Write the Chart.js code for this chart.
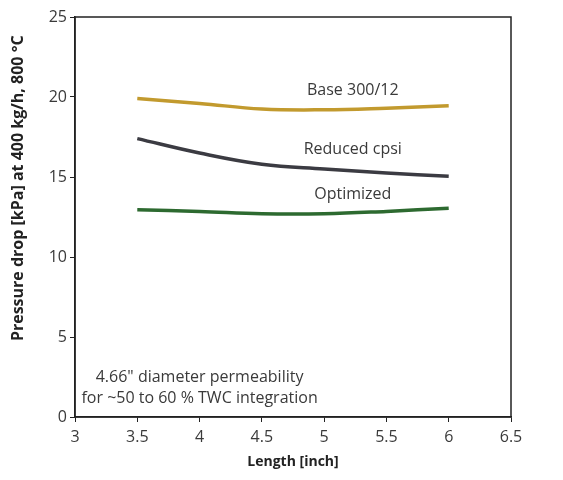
<!DOCTYPE html>
<html>
<head>
<meta charset="utf-8">
<script src="https://cdn.jsdelivr.net/npm/chart.js@4"></script>
<style>
  html, body { margin: 0; padding: 0; background: #ffffff; }
  #wrap { width: 563px; height: 480px; }
</style>
</head>
<body>
<div id="wrap"><canvas id="dropChart"></canvas></div>
<script>
const lengths = [3.5, 4, 4.5, 5, 5.5, 6];
const baseDrop = [19.9, 19.6, 19.25, 19.2, 19.3, 19.45];
const reducedDrop = [17.4, 16.5, 15.8, 15.5, 15.25, 15.05];
const optimizedDrop = [12.95, 12.85, 12.7, 12.7, 12.85, 13.05];
const xTicks = [3, 3.5, 4, 4.5, 5, 5.5, 6, 6.5];
const yTicks = [0, 5, 10, 15, 20, 25];
const yTitle = "Pressure drop [kPa] at 400 kg/h, 800 °C";

const palette = {
  gold: "#c29a2e",
  slate: "#3b3b42",
  green: "#2d6a30",
  text: "#3a3a3a",
  axis: "#222222"
};

const textFont = "'Open Sans', 'Liberation Sans', sans-serif";

const toPoints = (values) => lengths.map((x, i) => ({ x, y: values[i] }));

const seriesLabels = [
  { text: "Base 300/12", x: 5.23, y: 20.4 },
  { text: "Reduced cpsi", x: 5.23, y: 16.7 },
  { text: "Optimized", x: 5.23, y: 13.9 }
];

const noteLines = [
  { text: "4.66\" diameter permeability", x: 4.0, y: 2.5 },
  { text: "for ~50 to 60 % TWC integration", x: 4.0, y: 1.15 }
];

const annotationPlugin = {
  id: "annotationPlugin",
  afterDatasetsDraw(chart) {
    const { ctx, scales, chartArea } = chart;
    ctx.save();
    // frame round the plot area
    ctx.strokeStyle = palette.axis;
    ctx.lineWidth = 1.5;
    ctx.strokeRect(chartArea.left, chartArea.top, chartArea.right - chartArea.left, chartArea.bottom - chartArea.top);

    ctx.fillStyle = palette.text;
    ctx.textAlign = "center";
    ctx.textBaseline = "middle";
    ctx.font = `16px ${textFont}`;
    [...seriesLabels, ...noteLines].forEach((item) => {
      ctx.fillText(item.text, scales.x.getPixelForValue(item.x), scales.y.getPixelForValue(item.y));
    });

    // y axis title, sits a little above the axis middle in the original
    ctx.translate(18, scales.y.getPixelForValue(14.3));
    ctx.rotate(-Math.PI / 2);
    ctx.fillStyle = "#222222";
    ctx.font = `bold 16px ${textFont}`;
    ctx.fillText(yTitle, 0, 0);
    ctx.restore();
  }
};

const lineSet = (label, values, color) => ({
  label,
  data: toPoints(values),
  borderColor: color,
  backgroundColor: color,
  borderWidth: 3.5,
  pointRadius: 0,
  tension: 0.4,
  fill: false
});

new Chart(document.getElementById("dropChart"), {
  type: "line",
  data: {
    datasets: [
      lineSet("Base 300/12", baseDrop, palette.gold),
      lineSet("Reduced cpsi", reducedDrop, palette.slate),
      lineSet("Optimized", optimizedDrop, palette.green)
    ]
  },
  options: {
    responsive: true,
    maintainAspectRatio: false,
    animation: false,
    parsing: false,
    layout: { padding: { top: 17, right: 52, left: 0, bottom: 10 } },
    plugins: {
      legend: { display: false },
      tooltip: { enabled: false }
    },
    scales: {
      x: {
        type: "linear",
        min: 3,
        max: 6.5,
        afterBuildTicks: (scale) => { scale.ticks = xTicks.map((value) => ({ value })); },
        afterFit: (scale) => { scale.height = 53; },
        ticks: {
          color: palette.text,
          font: { family: textFont, size: 16 },
          padding: 6,
          callback: (value) => String(value)
        },
        grid: {
          drawOnChartArea: false,
          drawTicks: true,
          tickLength: 5,
          color: palette.axis
        },
        border: { color: palette.axis, width: 1.5 },
        title: {
          display: true,
          text: "Length [inch]",
          color: "#222222",
          font: { family: textFont, size: 14, weight: "bold" },
          padding: { top: 4, bottom: 0 }
        }
      },
      y: {
        min: 0,
        max: 25,
        afterBuildTicks: (scale) => { scale.ticks = yTicks.map((value) => ({ value })); },
        afterFit: (scale) => { scale.width = 75; },
        ticks: {
          color: palette.text,
          font: { family: textFont, size: 16 },
          padding: 3
        },
        grid: {
          drawOnChartArea: false,
          drawTicks: true,
          tickLength: 5,
          color: palette.axis
        },
        border: { color: palette.axis, width: 1.5 },
        title: { display: false }
      }
    }
  },
  plugins: [annotationPlugin]
});
</script>
</body>
</html>
